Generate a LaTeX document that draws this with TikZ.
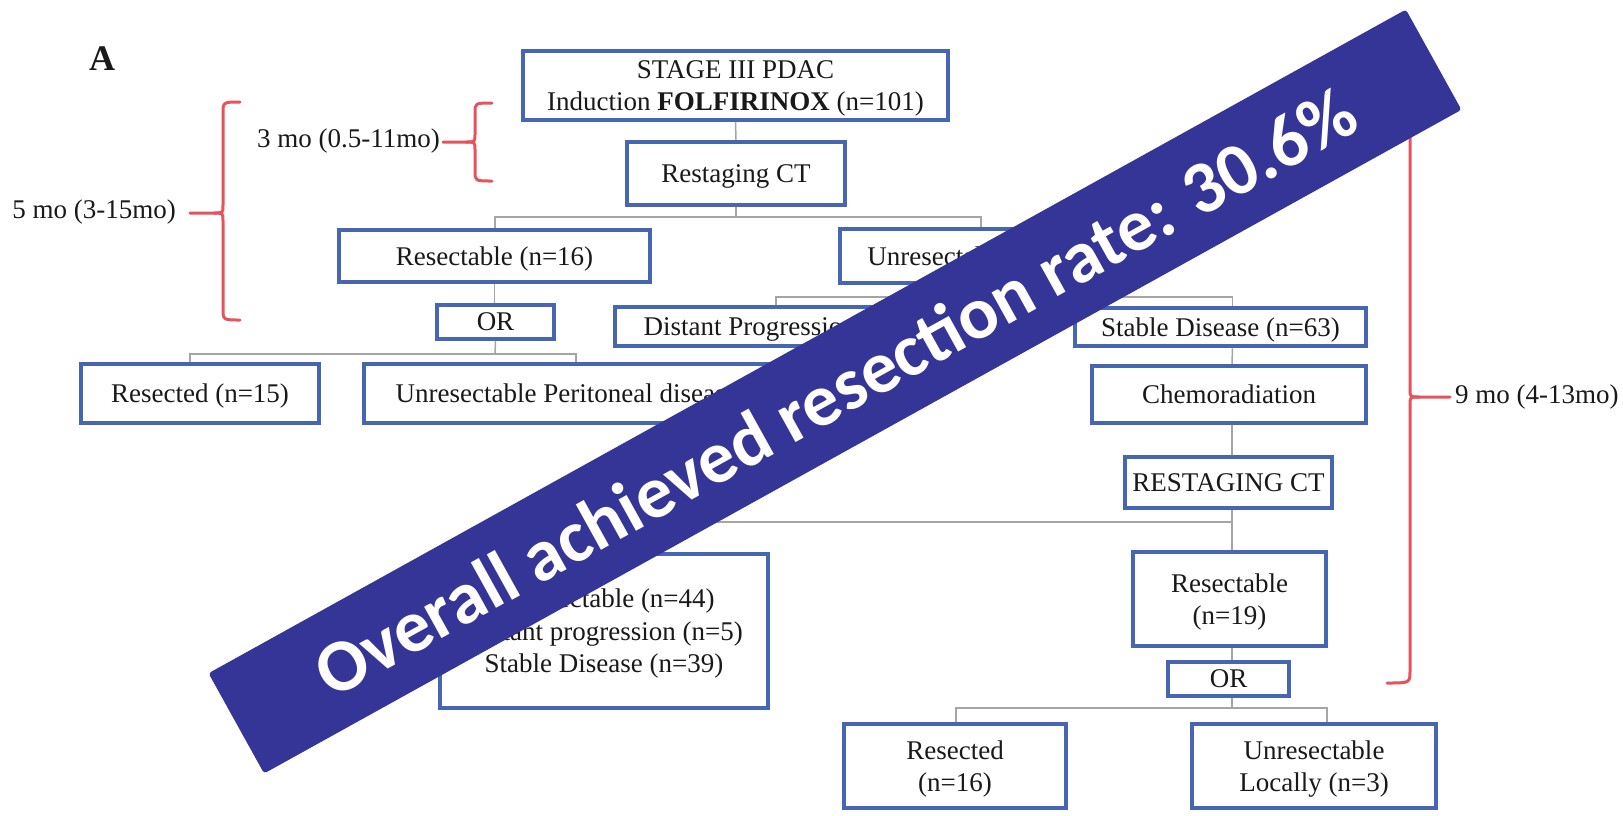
\documentclass[tikz,border=0pt]{standalone}
\usepackage{fontspec}
\setmainfont{Liberation Serif}
\newfontfamily\bannerfont{Carlito}
\usetikzlibrary{calc}
\definecolor{boxblue}{RGB}{70,102,180}
\definecolor{conngray}{RGB}{165,165,165}
\definecolor{bracered}{RGB}{232,82,92}
\definecolor{bannerblue}{RGB}{52,53,150}
\definecolor{txt}{RGB}{25,25,25}
\begin{document}
\begin{tikzpicture}[x=1pt,y=-1pt,
  box/.style={draw=boxblue, line width=4.5pt, fill=white, inner sep=0pt, align=center, text=txt, text depth=0pt, font=\fontsize{27}{32.5}\selectfont},
  conn/.style={draw=conngray, line width=1.5pt},
  brace/.style={draw=bracered, line width=3pt, line join=round, line cap=round},
  lbl/.style={text=txt, font=\fontsize{27}{32.5}\selectfont, inner sep=0pt}]
\useasboundingbox[fill=white] (0,0) rectangle (1623,815);

% label A
\node[text=txt, font=\bfseries\fontsize{36}{40}\selectfont, inner sep=0pt] (labA) at (102,59) {A};

% boxes
\node[box, minimum width=425pt, minimum height=69pt] (top) at (735.5,85.5) {STAGE III PDAC\\Induction \textbf{FOLFIRINOX} (n=101)};
\node[box, minimum width=218pt, minimum height=63pt] (restage) at (736,173.5) {Restaging CT};
\node[box, minimum width=311pt, minimum height=52pt] (res16) at (494.5,256) {Resectable (n=16)};
\node[box, minimum width=276pt, minimum height=54pt] (unres) at (978,256) {Unresectable (n=85)};
\node[box, minimum width=117pt, minimum height=34pt] (orL) at (495.5,322) {OR};
\node[box, minimum width=350pt, minimum height=39pt] (dist) at (790,326.5) {Distant Progression (n=22)};
\node[box, minimum width=291pt, minimum height=38pt] (stable) at (1220.5,327) {Stable Disease (n=63)};
\node[box, minimum width=238pt, minimum height=59pt] (res15) at (200,393.5) {Resected (n=15)};
\node[box, minimum width=472pt, minimum height=59pt] (unresper) at (600,393.5) {Unresectable Peritoneal disease (n=1)};
\node[box, minimum width=274pt, minimum height=57pt] (chemo) at (1229,394.5) {Chemoradiation};
\node[box, minimum width=207pt, minimum height=51pt] (restage2) at (1228.5,482.5) {RESTAGING CT};
\node[box, minimum width=328pt, minimum height=154pt] (leftbox) at (604,631) {Unresectable (n=44)\\Distant progression (n=5)\\Stable Disease (n=39)};
\node[box, minimum width=193pt, minimum height=94pt] (res19) at (1229.5,599) {Resectable\\(n=19)};
\node[box, minimum width=121pt, minimum height=34pt] (orR) at (1228.5,679) {OR};
\node[box, minimum width=222pt, minimum height=84pt] (res16b) at (955,766) {Resected\\(n=16)};
\node[box, minimum width=244pt, minimum height=84pt] (unresloc) at (1314,766) {Unresectable\\Locally (n=3)};

% connectors
\coordinate (j1) at (736,217);
\coordinate (j2) at (495,354);
\coordinate (j3) at (978,297);
\coordinate (j4) at (1232,522);
\coordinate (j5) at (1232,708);
\draw[conn] (top.south) -- (restage.north);
\draw[conn] (restage.south) -- (j1);
\draw[conn] ([xshift=0.5pt]res16.north) |- (j1) -| ([xshift=3pt]unres.north);
\draw[conn] (res16.south) -- (orL.north -| res16.south);
\draw[conn] (orL.south) -- (j2);
\draw[conn] ([xshift=-10pt]res15.north) |- (j2) -| ([xshift=-24pt]unresper.north);
\draw[conn] (unres.south) -- (j3);
\draw[conn] ([xshift=-14pt]dist.north) |- (j3) -| ([xshift=12pt]stable.north);
\draw[conn] ([xshift=12pt]stable.south) -- (chemo.north -| j4);
\draw[conn] (chemo.south -| j4) -- (restage2.north -| j4);
\draw[conn] (restage2.south -| j4) -- (j4);
\draw[conn] (leftbox.north) |- (j4) -- (res19.north -| j4);
\draw[conn] (res19.south -| j4) -- (orR.north -| j4);
\draw[conn] (orR.south -| j4) -- (j5);
\draw[conn] ([xshift=1pt]res16b.north) |- (j5) -| ([xshift=13pt]unresloc.north);

% braces and labels
\node[lbl, anchor=base east] (t5) at (176,218) {5 mo (3-15mo)};
\node[lbl, anchor=base east] (t3) at (440,147) {3 mo (0.5-11mo)};
\node[lbl, anchor=base west] (t9) at (1455,403) {9 mo (4-13mo)};
\draw[brace] (240,102) .. controls (223,102) .. (223,114) -- (223,205) .. controls (223,213) .. (214,213) -- (190,213);
\draw[brace] (214,213) .. controls (223,213) .. (223,221) -- (223,308) .. controls (223,320) .. (240,320);
\draw[brace] (492,103) .. controls (475,103) .. (475,113) -- (475,134) .. controls (475,142) .. (466,142) -- (443,142);
\draw[brace] (466,142) .. controls (475,142) .. (475,150) -- (475,171) .. controls (475,181) .. (492,181);
\draw[brace] (1387,102) .. controls (1410,102) .. (1410,114) -- (1410,389) .. controls (1410,397) .. (1419,397) -- (1450,397);
\draw[brace] (1419,397) .. controls (1410,397) .. (1410,405) -- (1410,671) .. controls (1410,683) .. (1387,683);

% banner
\node[fill=bannerblue, rounded corners=3pt, minimum width=1369pt, minimum height=114.6pt, inner sep=0pt, rotate=29, text=white, font=\bannerfont\bfseries\fontsize{74}{80}\selectfont] (banner) at (835,391.5) {Overall achieved resection rate: 30.6\%};
\end{tikzpicture}
\end{document}
